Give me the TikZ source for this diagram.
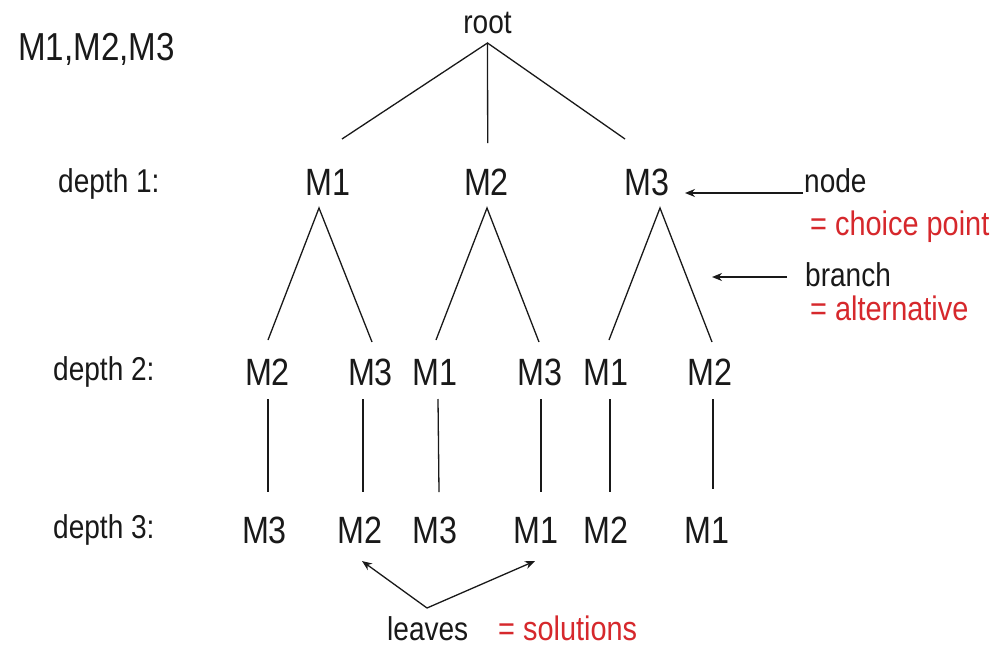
\documentclass[tikz,border=0pt]{standalone}
\usepackage{fontspec}
\setmainfont{Liberation Sans}[FakeStretch=0.85]
\usetikzlibrary{arrows.meta}
\definecolor{ink}{RGB}{25,25,25}
\definecolor{notered}{RGB}{214,40,44}

\begin{document}
\begin{tikzpicture}[x=1pt,y=-1pt,
  txt/.style={inner sep=0pt, text=ink},
  lvl/.style={txt, font=\fontsize{38}{38}\selectfont, anchor=base},
  lab/.style={txt, font=\fontsize{33}{33}\selectfont, anchor=base west},
  note/.style={lab, font=\fontsize{34}{34}\selectfont, text=notered},
  edge/.style={draw=ink, line width=1.3pt},
  pointer/.style={edge, -{Stealth[length=10pt,width=8pt]}}]
\useasboundingbox (0,0) rectangle (1004,653);
\fill[white] (0,0) rectangle (1004,653);

% the set of items being ordered
\node[txt, font=\fontsize{39}{39}\selectfont, anchor=base west] (set) at (18,60) {M1,M2,M3};

% level labels
\node[lab] (d1) at (58,192) {depth 1:};
\node[lab] (d2) at (53,380) {depth 2:};
\node[lab] (d3) at (53,538) {depth 3:};

% the search tree
\node[lvl, font=\fontsize{33}{33}\selectfont] (root) at (487.5,33) {root};

\node[lvl] (m1) at (328,195) {M1};
\node[lvl] (m2) at (486.5,195) {M2};
\node[lvl] (m3) at (647,195) {M3};

\node[lvl] (a1) at (267.5,385) {M2};
\node[lvl] (a2) at (370.5,385) {M3};
\node[lvl] (a3) at (435,385) {M1};
\node[lvl] (a4) at (540,385) {M3};
\node[lvl] (a5) at (606,385) {M1};
\node[lvl] (a6) at (710,385) {M2};

\node[lvl] (b1) at (264.5,543) {M3};
\node[lvl] (b2) at (360,543) {M2};
\node[lvl] (b3) at (435,543) {M3};
\node[lvl] (b4) at (536,543) {M1};
\node[lvl] (b5) at (606,543) {M2};
\node[lvl] (b6) at (707,543) {M1};

% branch end points
\coordinate (r0) at (487.5,43);
\coordinate (r1) at (342,139);
\coordinate (r2) at (487.7,143);
\coordinate (r3) at (625,139);

\coordinate (p1) at (319,208);
\coordinate (p1l) at (268,340);
\coordinate (p1r) at (372,342);
\coordinate (p2) at (487,208);
\coordinate (p2l) at (436,340);
\coordinate (p2r) at (539,342);
\coordinate (p3) at (660,208);
\coordinate (p3l) at (609,340);
\coordinate (p3r) at (712,342);

\draw[edge] (r1) -- (r0) -- (r3);
\draw[edge] (r0) -- (r2);
\draw[edge] (p1l) -- (p1) -- (p1r);
\draw[edge] (p2l) -- (p2) -- (p2r);
\draw[edge] (p3l) -- (p3) -- (p3r);

\foreach \u/\v/\x/\xx/\yy in {a1/b1/268/268/492, a2/b2/363/363/492, a3/b3/438/439/492,
                              a4/b4/541/541/492, a5/b5/610/610/492, a6/b6/713/713/489}{
  \coordinate (\u-top) at (\x,399);
  \coordinate (\v-top) at (\xx,\yy);
  \draw[edge] (\u-top) -- (\v-top);
}

% annotations
\node[lab] (nodetxt) at (804,192) {node};
\node[note] (choice) at (810,235) {= choice point};
\coordinate (nodetail) at (803,193);
\coordinate (nodetip) at (685,193);
\draw[pointer] (nodetail) -- (nodetip);

\node[lab] (branchtxt) at (805,286) {branch};
\node[note] (alt) at (810,320) {= alternative};
\coordinate (brtail) at (787,277);
\coordinate (brtip) at (712,277);
\draw[pointer] (brtail) -- (brtip);

\node[lab] (leaves) at (387,640) {leaves};
\node[note] (sol) at (498,640) {= solutions};
\coordinate (lvtop) at (427,608);
\coordinate (lvleft) at (362,561);
\coordinate (lvright) at (535,561);
\draw[pointer] (lvtop) -- (lvleft);
\draw[pointer] (lvtop) -- (lvright);
\end{tikzpicture}
\end{document}
